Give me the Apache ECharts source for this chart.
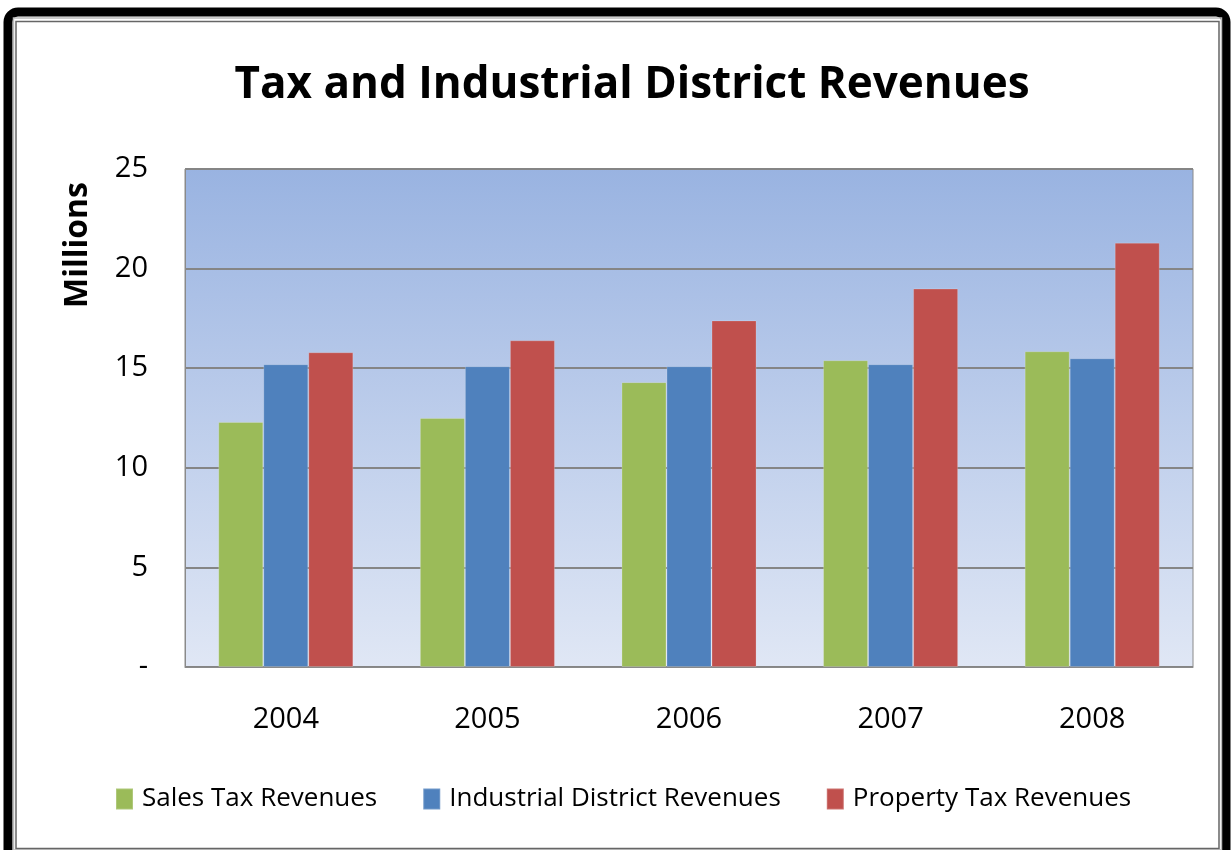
<!DOCTYPE html>
<html>
<head>
<meta charset="utf-8">
<script src="https://cdn.jsdelivr.net/npm/echarts@6/dist/echarts.min.js"></script>
<style>
html,body{margin:0;padding:0;background:#fff;}
#chart{width:1231px;height:850px;}
</style>
</head>
<body>
<div id="chart"></div>
<script>
const categories = ['2004', '2005', '2006', '2007', '2008'];
const salesTax = [12.3, 12.5, 14.3, 15.4, 15.85];
const industrialDistrict = [15.2, 15.1, 15.1, 15.2, 15.5];
const propertyTax = [15.8, 16.4, 17.4, 19.0, 21.3];
const seriesNames = ['Sales Tax Revenues', 'Industrial District Revenues', 'Property Tax Revenues'];
const seriesColors = ['#9BBB59', '#4F81BD', '#C0504D'];
const axisTitle = 'Millions';

const chart = echarts.init(document.getElementById('chart'));
const font = 'Open Sans';

function bar(name, data, color) {
  return {
    name: name,
    type: 'bar',
    data: data,
    barGap: '0%',
    barCategoryGap: '33%',
    itemStyle: { color: color, borderColor: 'rgba(255,255,255,0.2)', borderWidth: 1 },
    emphasis: { disabled: true }
  };
}

chart.setOption({
  animation: false,
  graphic: [
    { type: 'rect', z: 0, shape: { x: 8, y: 12, width: 1218, height: 900, r: 10 },
      style: { fill: 'none', stroke: '#000', lineWidth: 9 } },
    { type: 'rect', z: 0, shape: { x: 13.5, y: 18, width: 1208, height: 832 },
      style: { fill: 'none', stroke: '#bbb', lineWidth: 1.5 } },
    { type: 'rect', z: 0, shape: { x: 16, y: 21.5, width: 1203, height: 827 },
      style: { fill: 'none', stroke: '#666', lineWidth: 1.5 } },
    { type: 'text', z: 5, x: 78, y: 245, rotation: Math.PI / 2,
      style: { text: axisTitle, fontFamily: font, fontWeight: 'bold', fontSize: 32,
        fill: '#000', align: 'center', verticalAlign: 'middle' } }
  ],
  title: {
    text: 'Tax and Industrial District Revenues',
    left: 627, top: 58, textAlign: 'center',
    textStyle: { fontFamily: font, fontWeight: 'bold', fontSize: 44, color: '#000' }
  },
  legend: {
    data: seriesNames,
    bottom: 33, left: 110,
    itemWidth: 17, itemHeight: 21, itemGap: 45,
    icon: 'rect',
    textStyle: { fontFamily: font, fontSize: 26, color: '#000', padding: [0, 0, 0, 4] }
  },
  grid: {
    left: 185, top: 169, right: 38, bottom: 183,
    show: true,
    borderColor: '#8a8a8a', borderWidth: 1,
    backgroundColor: { type: 'linear', x: 0, y: 0, x2: 0, y2: 1,
      colorStops: [{ offset: 0, color: '#99B3E1' }, { offset: 1, color: '#E0E7F5' }] }
  },
  xAxis: {
    type: 'category',
    data: categories,
    axisLine: { show: true, lineStyle: { color: '#8a8a8a', width: 1 } },
    axisTick: { show: false },
    axisLabel: { fontFamily: font, fontSize: 29, color: '#000', margin: 38 }
  },
  yAxis: {
    type: 'value',
    min: 0, max: 25, interval: 5,
    axisLine: { show: true, lineStyle: { color: '#8a8a8a' } },
    axisTick: { show: false },
    splitLine: { show: true, lineStyle: { color: '#858585', width: 2 } },
    axisLabel: { fontFamily: font, fontSize: 29, color: '#000', margin: 37,
      formatter: function (v) { return v === 0 ? '-' : String(v); } }
  },
  series: [
    bar(seriesNames[0], salesTax, seriesColors[0]),
    bar(seriesNames[1], industrialDistrict, seriesColors[1]),
    bar(seriesNames[2], propertyTax, seriesColors[2])
  ]
});
</script>
</body>
</html>
